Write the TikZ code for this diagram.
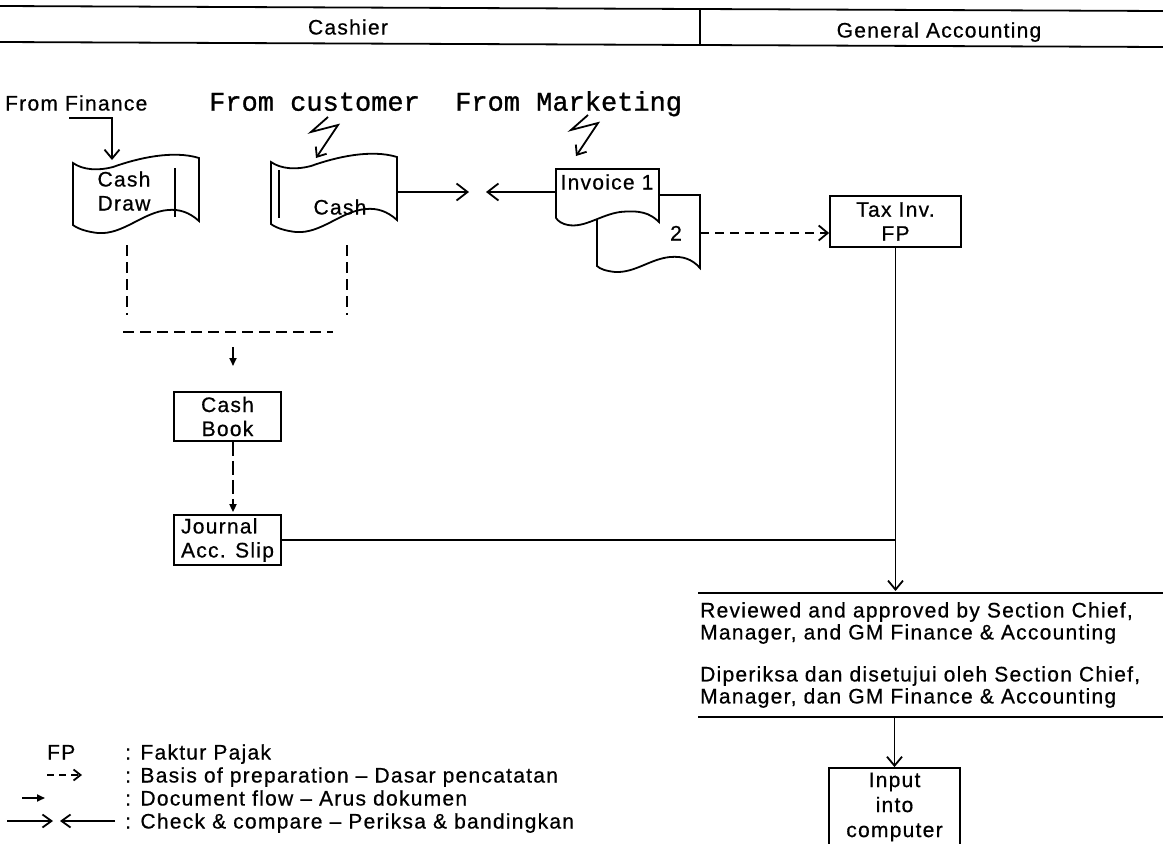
\documentclass[tikz,border=0pt]{standalone}
\usepackage{fontspec}
\setmainfont[LetterSpace=6,FakeBold=0.6]{Liberation Sans}
\newfontfamily\monof[FakeBold=1]{Liberation Mono}
\usetikzlibrary{arrows.meta}
\tikzset{
  txt/.style={font=\fontsize{21}{24}\selectfont, inner sep=0pt},
  one/.style={txt, text height=15pt, text depth=0pt},
  mono/.style={font=\monof\fontsize{27}{30}\selectfont, inner sep=0pt, text height=15.4pt, text depth=0pt},
  ln/.style={line width=1.8pt},
  box/.style={txt, draw, line width=1.8pt, align=center},
  barb/.style={-{Straight Barb[length=9pt,width=15pt]}},
  cmp/.style={-{Straight Barb[length=11pt,width=17pt]}},
  zig/.style={-{Straight Barb[length=8pt,width=13pt]}},
  smallhead/.style={-{Triangle[length=8pt,width=7pt]}},
  dshbig/.style={line width=2.2pt, dash pattern=on 11pt off 6pt},
  dshar/.style={dash pattern=on 9pt off 6pt},
}
\newcommand{\flagdoc}[1]{\draw[ln, shift={#1}] (0,1) .. controls (10,8) and (25,9) .. (40,5) .. controls (65,-4) and (100,-12) .. (126,-4) -- (126,59) .. controls (116,50) and (106,47) .. (95,48) .. controls (70,50) and (50,73) .. (25,71) .. controls (15,70) and (5,67) .. (0,63) -- cycle;}
\begin{document}
\begin{tikzpicture}[x=1pt,y=-1pt]
\useasboundingbox (0,0) rectangle (1163,844);
\clip (0,0) rectangle (1163,844);
\fill[white] (0,0) rectangle (1163,844);

% header
\coordinate (h1a) at (0,6); \coordinate (h1b) at (1163,11);
\coordinate (h2a) at (0,42); \coordinate (h2b) at (1163,47);
\coordinate (dv1) at (700,9); \coordinate (dv2) at (700,45);
\draw[ln] (h1a) -- (h1b);
\draw[ln] (h2a) -- (h2b);
\draw[ln] (dv1) -- (dv2);
\node[one] (cashier) at (348,27) {Cashier};
\node[one] (genacc) at (939,30) {General Accounting};

% sources
\node[one, anchor=west] (fromfin) at (5,103) {From Finance};
\node[mono, anchor=west] (fromcus) at (209,103) {From customer};
\node[mono, anchor=west] (frommkt) at (455,103) {From Marketing};

% documents
\flagdoc{(73,162)}
\draw[ln] (175,168) -- (175,217);
\node[txt, align=center] (cashdraw) at (124,191) {Cash\\Draw};
\flagdoc{(271,161)}
\draw[ln] (279,170) -- (279,218);
\node[one] (cash) at (340,207) {Cash};

\draw[ln] (556,218) -- (556,169) -- (659,169) -- (659,222) .. controls (650,213) and (640,210) .. (620,212) .. controls (600,215) and (585,228) .. (568,225) .. controls (562,224) and (558,221) .. (556,218);
\draw[ln] (659,195) -- (700,195) -- (700,268) .. controls (692,259) and (683,256) .. (670,257) .. controls (650,259) and (635,273) .. (615,272) .. controls (606,271) and (600,269) .. (597,266) -- (597,219);
\node[one] (inv1) at (607,182) {Invoice 1};
\node[one] (inv2) at (676,233) {2};

\coordinate (cashE) at (398,192);
\coordinate (inv1W) at (556,192);
\coordinate (inv2E) at (700,233);
\coordinate (cmpR) at (469,192);
\coordinate (cmpL) at (486,192);

% incoming arrows
\coordinate (finS) at (69,118);
\coordinate (finT) at (112,160);
\draw[ln, barb] (finS) -| (finT);
\draw[ln, zig, shift={(328,117)}] (0,0) -- (-17,15) -- (10,8) -- (-12,41);
\draw[ln, zig, shift={(588,115)}] (0,0) -- (-17,15) -- (10,8) -- (-12,41);

% check & compare
\draw[ln, cmp] (cashE) -- (cmpR);
\draw[ln, cmp] (inv1W) -- (cmpL);

% tax invoice
\node[box, minimum width=131pt, minimum height=51pt] (tax) at (895.5,221.5) {Tax Inv.\\FP};
\draw[ln, dshar, barb] (inv2E) -- (inv2E -| tax.west);

% cashier flow
\coordinate (dl1) at (127,245); \coordinate (dl2) at (127,315);
\coordinate (dr1) at (347,245); \coordinate (dr2) at (347,315);
\coordinate (dh1) at (123,332); \coordinate (dh2) at (333,332);
\draw[dshbig] (dl1) -- (dl2);
\draw[dshbig] (dr1) -- (dr2);
\draw[dshbig] (dh1) -- (dh2);
\coordinate (sa1) at (233,347); \coordinate (sa2) at (233,366);
\draw[ln, smallhead] (sa1) -- (sa2);

\node[box, minimum width=107pt, minimum height=49pt] (cashbook) at (227.5,416.5) {Cash\\Book};
\node[box, minimum width=107pt, minimum height=50pt, align=left] (journal) at (227.5,540) {Journal\\Acc. Slip};
\draw[ln, dash pattern=on 14pt off 5pt, smallhead] ([xshift=5.5pt]cashbook.south) -- ([xshift=5.5pt,yshift=2pt]journal.north);

\draw[ln] (journal.east) -- (journal.east -| tax.south);

% review
\coordinate (r1a) at (698,593); \coordinate (r1b) at (1163,593);
\coordinate (r2a) at (698,717); \coordinate (r2b) at (1163,717);
\draw[ln] (r1a) -- (r1b);
\draw[ln] (r2a) -- (r2b);
\draw[ln, barb] (tax.south) -- ([yshift=2pt]tax.south |- r1a);
\node[txt, align=left, anchor=west, font=\fontsize{21}{22}\selectfont] (rev) at (700,623) {Reviewed and approved by Section Chief,\\Manager, and GM Finance \& Accounting};
\node[txt, align=left, anchor=west, font=\fontsize{21}{22}\selectfont] (dip) at (700,687) {Diperiksa dan disetujui oleh Section Chief,\\Manager, dan GM Finance \& Accounting};

\node[box, minimum width=131pt, minimum height=78pt, font=\fontsize{21}{25}\selectfont] (input) at (894.5,807) {Input\\into\\computer};
\draw[ln, barb] (r2a -| input.north) -- (input.north);

% legend
\node[one, anchor=west] (lfp) at (47,752) {FP};
\node[one, anchor=west] (lfpt) at (125,752) {: Faktur Pajak};
\coordinate (lb1) at (47,775); \coordinate (lb2) at (82,775);
\draw[ln, dash pattern=on 7pt off 5pt, -{Straight Barb[length=7pt,width=11pt]}] (lb1) -- (lb2);
\node[one, anchor=west] (lbt) at (125,775) {: Basis of preparation – Dasar pencatatan};
\coordinate (ld1) at (22,798); \coordinate (ld2) at (45,798);
\draw[ln, smallhead] (ld1) -- (ld2);
\node[one, anchor=west] (ldt) at (125,798) {: Document flow – Arus dokumen};
\coordinate (lc1) at (7,821); \coordinate (lc2) at (53,821);
\coordinate (lc3) at (115,821); \coordinate (lc4) at (60,821);
\draw[ln, -{Straight Barb[length=9pt,width=13pt]}] (lc1) -- (lc2);
\draw[ln, -{Straight Barb[length=9pt,width=13pt]}] (lc3) -- (lc4);
\node[one, anchor=west] (lct) at (125,821) {: Check \& compare – Periksa \& bandingkan};
\end{tikzpicture}
\end{document}
